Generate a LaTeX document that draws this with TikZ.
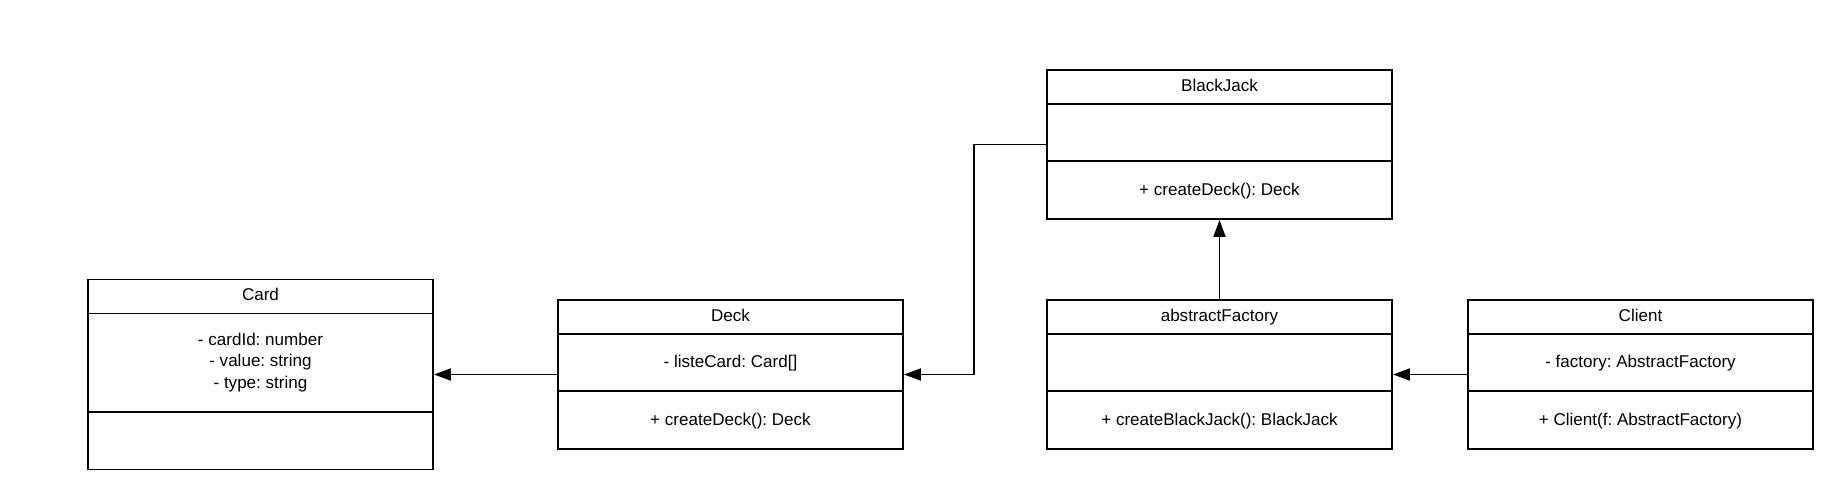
\documentclass[tikz,border=0pt]{standalone}
\usepackage{fontspec}
\setmainfont{Liberation Sans}
\usetikzlibrary{calc, arrows.meta, positioning}

\tikzset{
    umlclass/.style={draw, line width=1.1pt, minimum width=6.9cm, inner sep=0},
    umlblock/.style={font=\fontsize{9.7}{12}\selectfont\frenchspacing, align=center, inner sep=0},
    umltext/.style={umlblock, text height=0.72em, text depth=0.21em},
    assoc/.style={line width=1.1pt, -{Triangle[length=0.34cm, width=0.24cm]}}
}

\begin{document}
\begin{tikzpicture}
% Define header height and section height
\def\hh{0.7}
\def\sh{1.14}

\useasboundingbox (0,0) rectangle (36.82,-10.08);

% Card
\node[umlclass, minimum height=3.8cm] (card) at (5.21,-7.49) {};
\draw[line width=1.1pt] ($(card.north west)+(0,-\hh)$) -- ($(card.north east)+(0,-\hh)$);
\draw[line width=1.1pt] ($(card.north west)+(0,-2.66)$) -- ($(card.north east)+(0,-2.66)$);
\node[umltext] (card-name) at ($(card.north)+(0,-\hh/2)$) {Card};
\node[umlblock] (card-attr) at ($(card.north)+(0,-1.68)$) {- cardId: number\\- value: string\\- type: string};

% Deck
\node[umlclass, minimum height=2.98cm] (deck) at (14.61,-7.49) {};
\draw[line width=1.1pt] ($(deck.north west)+(0,-\hh)$) -- ($(deck.north east)+(0,-\hh)$);
\draw[line width=1.1pt] ($(deck.north west)+(0,-\hh-\sh)$) -- ($(deck.north east)+(0,-\hh-\sh)$);
\node[umltext] (deck-name) at ($(deck.north)+(0,-\hh/2)$) {Deck};
\node[umltext] (deck-attr) at ($(deck.north)+(0,-\hh-\sh/2)$) {- listeCard: Card[]};
\node[umltext] (deck-meth) at ($(deck.south)+(0,\sh/2)$) {+ createDeck(): Deck};

% BlackJack
\node[umlclass, minimum height=2.98cm] (blackjack) at (24.39,-2.89) {};
\draw[line width=1.1pt] ($(blackjack.north west)+(0,-\hh)$) -- ($(blackjack.north east)+(0,-\hh)$);
\draw[line width=1.1pt] ($(blackjack.north west)+(0,-\hh-\sh)$) -- ($(blackjack.north east)+(0,-\hh-\sh)$);
\node[umltext] (blackjack-name) at ($(blackjack.north)+(0,-\hh/2)$) {BlackJack};
\node[umltext] (blackjack-meth) at ($(blackjack.south)+(0,\sh/2)$) {+ createDeck(): Deck};

% abstractFactory
\node[umlclass, minimum height=2.98cm] (factory) at (24.39,-7.49) {};
\draw[line width=1.1pt] ($(factory.north west)+(0,-\hh)$) -- ($(factory.north east)+(0,-\hh)$);
\draw[line width=1.1pt] ($(factory.north west)+(0,-\hh-\sh)$) -- ($(factory.north east)+(0,-\hh-\sh)$);
\node[umltext] (factory-name) at ($(factory.north)+(0,-\hh/2)$) {abstractFactory};
\node[umltext] (factory-meth) at ($(factory.south)+(0,\sh/2)$) {+ createBlackJack(): BlackJack};

% Client
\node[umlclass, minimum height=2.98cm] (client) at (32.81,-7.49) {};
\draw[line width=1.1pt] ($(client.north west)+(0,-\hh)$) -- ($(client.north east)+(0,-\hh)$);
\draw[line width=1.1pt] ($(client.north west)+(0,-\hh-\sh)$) -- ($(client.north east)+(0,-\hh-\sh)$);
\node[umltext] (client-name) at ($(client.north)+(0,-\hh/2)$) {Client};
\node[umltext] (client-attr) at ($(client.north)+(0,-\hh-\sh/2)$) {- factory: AbstractFactory};
\node[umltext] (client-meth) at ($(client.south)+(0,\sh/2)$) {+ Client(f: AbstractFactory)};

% Associations
\draw[assoc] (deck) -- (card);
\draw[assoc] (blackjack.west) -- ++(-1.44,0) |- (deck.east);
\draw[assoc] (factory) -- (blackjack);
\draw[assoc] (client) -- (factory);
\end{tikzpicture}
\end{document}
